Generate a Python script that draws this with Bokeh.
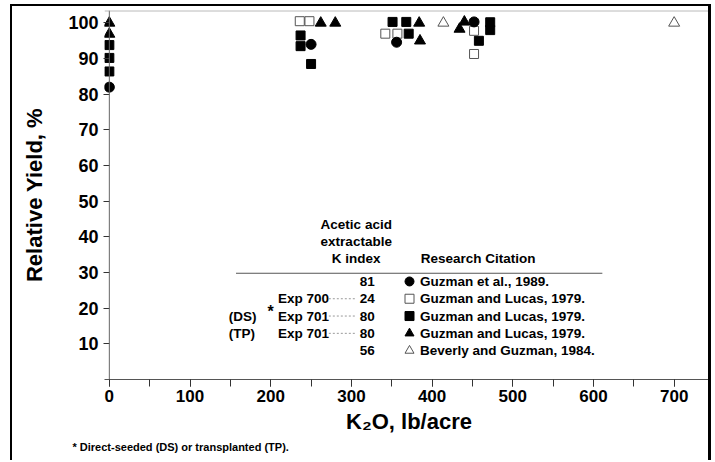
from bokeh.plotting import figure
from bokeh.models import Range1d, FixedTicker, SingleIntervalTicker, Span, Title, ColumnDataSource
from bokeh.core.properties import value
from bokeh.embed import file_html
from bokeh.resources import INLINE

# ---------------- data ----------------
circle_x = [0, 250, 356, 452]
circle_y = [82, 94, 94.6, 100.3]

open_square_x = [236, 248, 342, 357, 452, 452]
open_square_y = [100.5, 100.5, 97, 97, 97.8, 91.3]

filled_square_x = [0, 0, 0, 237, 237, 250, 351, 368, 371, 458, 472, 472]
filled_square_y = [93.8, 90.2, 86.4, 96.5, 93.5, 88.5, 100.3, 100.3, 97, 95, 100.2, 98]

filled_triangle_x = [0, 0, 262, 280, 384, 385, 440, 434]
filled_triangle_y = [100, 96.9, 100, 100, 100, 95, 100.3, 98.3]

open_triangle_x = [414, 700]
open_triangle_y = [100, 100]

y_ticks = [10, 20, 30, 40, 50, 60, 70, 80, 90, 100]

# table (legend) content
k_index = ["81", "24", "80", "80", "56"]
citations = ["Guzman et al., 1989.", "Guzman and Lucas, 1979.", "Guzman and Lucas, 1979.",
             "Guzman and Lucas, 1979.", "Beverly and Guzman, 1984."]
exp_labels = ["", "Exp 700", "Exp 701", "Exp 701", ""]
method_labels = ["", "", "(DS)", "(TP)", ""]
header_lines = ["Acetic acid", "extractable", "K index"]
citation_header = "Research Citation"
footnote = "Direct-seeded (DS) or transplanted (TP)."
markers = ["circle", "square", "square", "triangle", "triangle"]
marker_fill = ["black", "white", "black", "black", "white"]
marker_line = ["black", "#555555", "black", "black", "#555555"]

FONT = "Liberation Sans"

p = figure(width=701, height=456, output_backend="svg", toolbar_location=None,
           x_range=Range1d(-6, 748.75), y_range=Range1d(0, 103.5),
           min_border_left=92, min_border_right=0, min_border_top=4, min_border_bottom=83)
p.outline_line_color = None
p.xgrid.visible = False
p.ygrid.visible = False
p.background_fill_color = "white"
p.border_fill_color = "white"
p.styles = {"margin-left": "10px", "margin-top": "4px",
            "border-left": "2px solid black", "border-top": "2px solid black",
            "border-right": "3px solid black"}

# axes
xa = p.xaxis[0]
xa.ticker = SingleIntervalTicker(interval=100, num_minor_ticks=2)
xa.major_tick_out = 7
xa.major_tick_in = 0
xa.minor_tick_out = 7
xa.minor_tick_in = 0
xa.major_tick_line_color = "#333333"
xa.minor_tick_line_color = "#333333"
xa.axis_line_color = "#555555"
xa.major_label_text_font = FONT
xa.major_label_text_font_style = "bold"
xa.major_label_text_font_size = "17px"
xa.major_label_text_color = "black"
xa.major_label_standoff = 3
xa.axis_label = "K\u2082O, lb/acre"
xa.axis_label_text_font = FONT
xa.axis_label_text_font_style = "bold"
xa.axis_label_text_font_size = "22px"
xa.axis_label_text_color = "black"
xa.axis_label_standoff = 4

ya = p.yaxis[0]
ya.ticker = FixedTicker(ticks=y_ticks)
ya.major_tick_out = 1
ya.major_tick_in = 5
ya.minor_tick_line_color = None
ya.major_tick_line_color = "#333333"
ya.axis_line_color = None
ya.major_label_text_font = FONT
ya.major_label_text_font_style = "bold"
ya.major_label_text_font_size = "18px"
ya.major_label_text_color = "black"
ya.major_label_standoff = 5
ya.axis_label = "Relative Yield, %"
ya.axis_label_text_font = FONT
ya.axis_label_text_font_style = "bold"
ya.axis_label_text_font_size = "22px"
ya.axis_label_text_color = "black"
ya.axis_label_standoff = 18

# y axis line at x = 0 and top frame line
p.add_layout(Span(location=0, dimension="height", line_color="#666666", line_width=1))
p.add_layout(Span(location=103.4, dimension="width", line_color="#999999", line_width=1))

# data points
p.scatter(filled_square_x, filled_square_y, marker="square", size=9,
          fill_color="black", line_color="black")
p.scatter(open_square_x, open_square_y, marker="square", size=9,
          fill_color="white", line_color="#555555", line_width=1)
p.scatter(circle_x, circle_y, marker="circle", size=10,
          fill_color="black", line_color="black")
p.scatter(filled_triangle_x, filled_triangle_y, marker="triangle", size=11,
          fill_color="black", line_color="black")
p.scatter(open_triangle_x, open_triangle_y, marker="triangle", size=11,
          fill_color="white", line_color="#555555", line_width=1)

# ---------------- table / legend ----------------
row_top = 27.5
row_step = 4.85
row_y = [row_top - i * row_step for i in range(len(k_index))]

tfont = dict(text_font=value(FONT), text_font_style="bold", text_font_size="13.5px",
             text_color="black", text_baseline="middle")

p.text(x=[306, 306, 306], y=[43.4, 38.6, 33.8], text=header_lines, text_align="center", **tfont)
p.text(x=[457], y=[33.8], text=[citation_header], text_align="center", **tfont)
p.segment(x0=[157], y0=[29.8], x1=[611], y1=[29.8], line_color="#555555", line_width=1)

src = ColumnDataSource(dict(y=row_y, k=k_index, cit=citations, exp=exp_labels,
                            meth=method_labels, marker=markers, fc=marker_fill, lc=marker_line,
                            xk=[329] * 5, xs=[372] * 5, xc=[385] * 5, xe=[209] * 5, xm=[148] * 5))
p.text(x="xk", y="y", text="k", source=src, text_align="right", **tfont)
p.text(x="xc", y="y", text="cit", source=src, text_align="left", **tfont)
p.text(x="xe", y="y", text="exp", source=src, text_align="left", **tfont)
p.text(x="xm", y="y", text="meth", source=src, text_align="left", **tfont)
p.scatter(x="xs", y="y", marker="marker", source=src, size=9, fill_color="fc", line_color="lc")

lead_y = row_y[1:4]
p.segment(x0=[272] * 3, y0=lead_y, x1=[306] * 3, y1=lead_y,
          line_color="#999999", line_dash="2 2", line_width=1)

p.text(x=[196], y=[row_y[2] + 1.2], text=["*"], text_align="left",
       text_font=value(FONT), text_font_style="bold", text_font_size="16px",
       text_color="black", text_baseline="middle")

p.add_layout(Title(text="* " + footnote, align="left", offset=-32,
                   text_font=FONT, text_font_style="bold", text_font_size="11px",
                   text_color="black", standoff=4), "below")

open("out.html", "w").write(file_html(p, INLINE))
